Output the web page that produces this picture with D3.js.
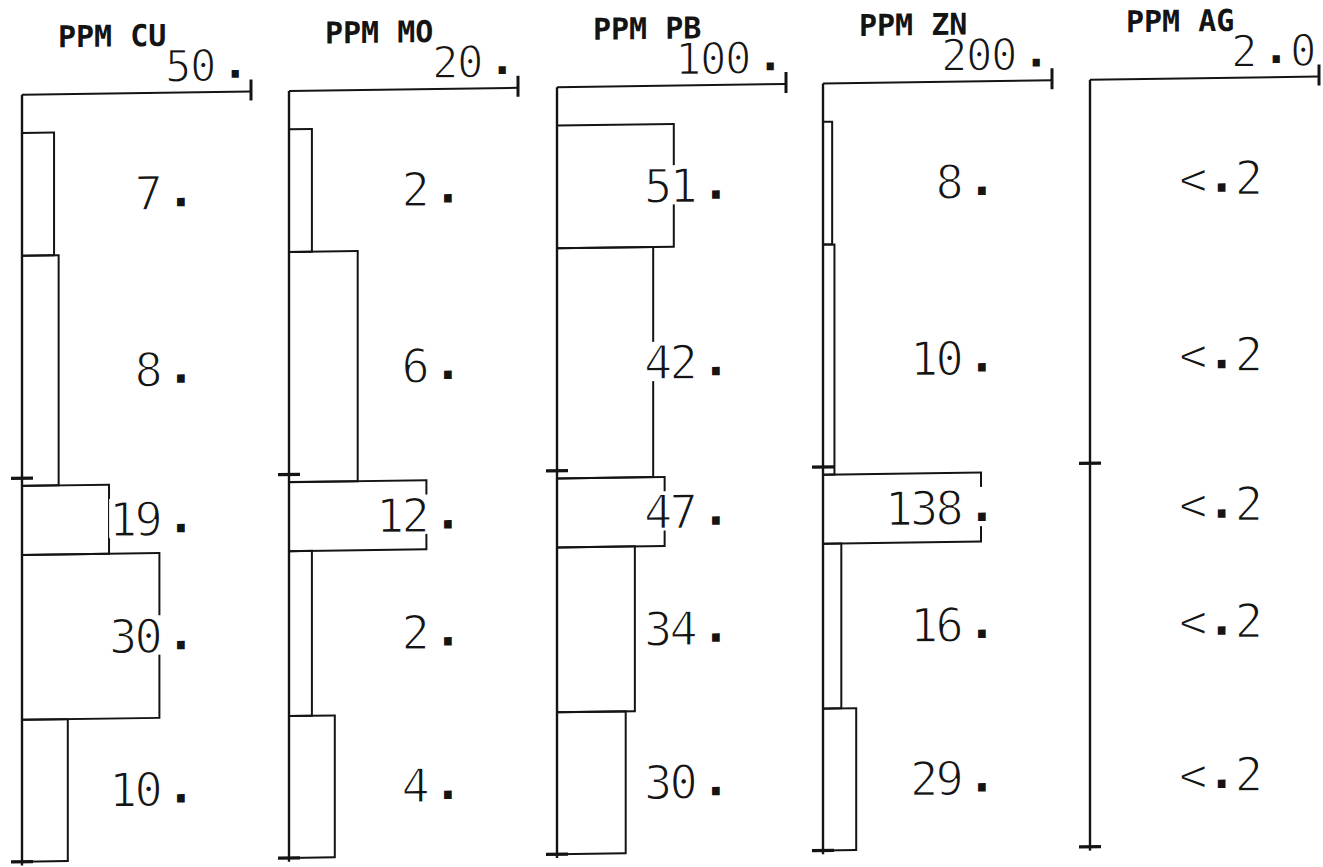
<!DOCTYPE html>
<html>
<head>
<meta charset="utf-8">
<script src="https://cdn.jsdelivr.net/npm/d3@7"></script>
<style>
	body { margin: 0; background: #fff; }
	svg { display: block; }
</style>
</head>
<body>
<div id="chart"></div>
<script>
(function() {
	var width = 1323
	var height = 867

	// sample intervals (depth units, top line = 0)
	var boundaries = [10, 42, 102, 120, 163, 200]
	var depthTicks = [100, 200]

	var titles = ["PPM CU", "PPM MO", "PPM PB", "PPM ZN", "PPM AG"]
	var scaleMax = [50, 20, 100, 200, 2.0]
	var scaleMaxLabels = ["50.", "20.", "100.", "200.", "2.0"]

	var cu = [7, 8, 19, 30, 10]
	var mo = [2, 6, 12, 2, 4]
	var pb = [51, 42, 47, 34, 30]
	var zn = [8, 10, 138, 16, 29]
	var ag = [null, null, null, null, null]
	var agLabels = ["<.2", "<.2", "<.2", "<.2", "<.2"]

	var series = [cu, mo, pb, zn, ag]

	// layout
	var colX = [22, 289, 557, 823, 1090]
	var colW = 229
	var ink = "#141414"
	var mono = "'DejaVu Sans Mono', 'Liberation Mono', monospace"

	var svg = d3.select("#chart")
		.append("svg")
		.attr("width", width)
		.attr("height", height)

	svg.append("rect")
		.attr("width", width)
		.attr("height", height)
		.attr("fill", "#fff")

	// the scanned sheet is slightly skewed
	var sheet = svg.append("g")
		.attr("transform", "skewY(-0.8)")

	var y = d3.scaleLinear()
		.domain([0, 200])
		.range([95, 862])

	// text with the plotter's wide-set square decimal point
	function plotText(g, str, xEnd, base, size, spacing, dotGap) {
		var t = g.append("text")
			.attr("x", xEnd)
			.attr("y", base)
			.attr("text-anchor", "end")
			.attr("font-family", mono)
			.attr("font-size", size)
			.attr("letter-spacing", spacing)
			.attr("fill", ink)
		var parts = str.split(".")
		parts.forEach(function(p, k) {
			if (k > 0) {
				t.append("tspan")
					.attr("dx", dotGap)
					.attr("dy", -3)
					.attr("font-weight", "bold")
					.text(".")
			}
			if (p.length) {
				t.append("tspan")
					.attr("dx", k > 0 ? 2 : 0)
					.attr("dy", k > 0 ? 3 : 0)
					.attr("stroke", "#fff")
					.attr("stroke-width", 1.4)
					.text(p)
			}
		})
		return t
	}

	series.forEach(function(values, i) {
		var g = sheet.append("g").attr("class", "col")

		var x = d3.scaleLinear()
			.domain([0, scaleMax[i]])
			.range([colX[i], colX[i] + colW])

		// bars
		values.forEach(function(v, j) {
			if (v == null) return
			g.append("rect")
				.attr("x", x(0))
				.attr("y", y(boundaries[j]))
				.attr("width", x(v) - x(0))
				.attr("height", y(boundaries[j + 1]) - y(boundaries[j]))
				.attr("fill", "none")
				.attr("stroke", ink)
				.attr("stroke-width", 2)
		})

		// value labels, knocking out the lines behind them
		var labelSize = 47
		var capH = labelSize * 0.73
		values.forEach(function(v, j) {
			var str = v == null ? agLabels[j] : v + "."
			var mid = (y(boundaries[j]) + y(boundaries[j + 1])) / 2
			var base = mid + capH / 2
			var t = plotText(g, str, x(0) + 170, base, labelSize, -3, v == null ? 3 : 7)
			var bb = t.node().getBBox()
			g.insert("rect", function() { return t.node() })
				.attr("x", bb.x)
				.attr("y", base - capH - 3)
				.attr("width", bb.width)
				.attr("height", capH + 5)
				.attr("fill", "#fff")
		})

		// vertical axis
		g.append("line")
			.attr("x1", x(0)).attr("x2", x(0))
			.attr("y1", y(0)).attr("y2", y(201))
			.attr("stroke", ink)
			.attr("stroke-width", 2.4)

		// top scale line with end tick
		g.append("line")
			.attr("x1", x(0)).attr("x2", x(scaleMax[i]))
			.attr("y1", y(0)).attr("y2", y(0))
			.attr("stroke", ink)
			.attr("stroke-width", 2)
		g.append("line")
			.attr("x1", x(scaleMax[i])).attr("x2", x(scaleMax[i]))
			.attr("y1", y(0) - 12).attr("y2", y(0) + 9)
			.attr("stroke", ink)
			.attr("stroke-width", 3)

		// depth crosses
		g.selectAll(".cross")
			.data(depthTicks)
			.enter().append("line")
			.attr("class", "cross")
			.attr("x1", x(0) - 11).attr("x2", x(0) + 11)
			.attr("y1", function(d) { return y(d) }).attr("y2", function(d) { return y(d) })
			.attr("stroke", ink)
			.attr("stroke-width", 3.2)

		// title
		g.append("text")
			.attr("x", x(0) + 36)
			.attr("y", 48)
			.attr("font-family", mono)
			.attr("font-weight", "bold")
			.attr("font-size", 30)
			.attr("fill", ink)
			.text(titles[i])

		// scale maximum
		plotText(g, scaleMaxLabels[i], x(scaleMax[i]) - 4, 84, 44, -1.5, 7)
	})
})();
</script>
</body>
</html>
